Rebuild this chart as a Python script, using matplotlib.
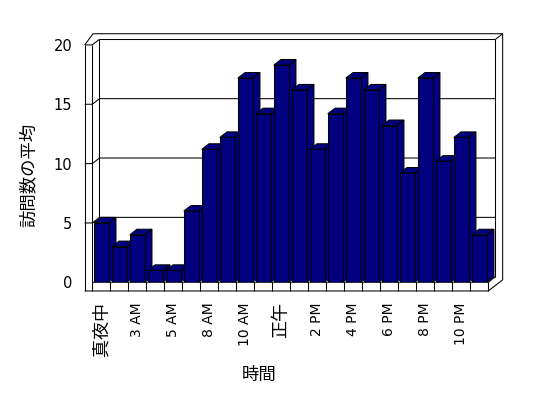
import matplotlib
matplotlib.use('Agg')
import matplotlib.pyplot as plt
from matplotlib.patches import Polygon

plt.rcParams['font.family'] = ['DejaVu Sans', 'Noto Sans CJK JP']

# average visits per hour (22 hourly buckets)
hours = ['真夜中', '1 AM', '3 AM', '4 AM', '5 AM', '7 AM', '8 AM', '9 AM', '10 AM', '11 AM',
         '正午', '1 PM', '2 PM', '3 PM', '4 PM', '5 PM', '6 PM', '7 PM', '8 PM', '9 PM',
         '10 PM', '11 PM']
visits = [5.0, 3.0, 4.0, 1.0, 1.0, 6.0, 11.2, 12.2, 17.2, 14.2, 18.3, 16.2,
          11.2, 14.2, 17.2, 16.2, 13.2, 9.2, 17.2, 10.2, 12.2, 4.0]
y_ticks = [0, 5, 10, 15, 20]

NAVY = '#000080'
LW = 0.75
W = 0.83            # bar width (category units)
DX, DY = 0.40, 0.47  # 3D depth offset in data units (~7 px, ~5.6 px)
XL = -0.92          # outer edge of left wall
FB = -0.73          # bottom of floor slab
n = len(visits)
x0, x1 = -0.5, n - 0.5

fig = plt.figure(figsize=(5.48, 3.98), dpi=100)
ax = fig.add_axes([0.1684, 0.2907, 0.7226, 0.5965])
ax.set_xlim(x0, x1)
ax.set_ylim(0, 20)
ax.patch.set_visible(False)
for s in ax.spines.values():
    s.set_visible(False)


def line(xs, ys, z=1):
    ax.plot(xs, ys, color='black', lw=LW, clip_on=False, zorder=z, solid_capstyle='butt')


# back wall + gridlines on left wall
for v in y_ticks[1:-1]:
    line([XL, x0, x0 + DX, x1 + DX], [v, v, v + DY, v + DY])
line([x0 + DX, x1 + DX], [20 + DY, 20 + DY])
line([x0 + DX, x0 + DX], [DY, 20 + DY])
line([x1 + DX, x1 + DX], [DY, 20 + DY])
line([x1 + DX, x1 + 2 * DX], [20 + DY, 20 + 2 * DY])

# left wall
line([XL, XL], [FB, 20])
line([x0, x0], [0, 20])
line([XL, x0, x0 + DX], [20, 20, 20 + DY])
line([XL, XL + 0.46, x1 + 2 * DX, x1 + 2 * DX, x1, XL],
     [20, 20 + 2 * DY, 20 + 2 * DY, FB + 2 * DY, FB, FB])

# floor
line([x0, x1, x1 + DX], [0, 0, DY])
line([x1, x1], [0, FB])
for k in range(n + 1):
    line([x0 + k, x0 + k], [0, FB])

# bars: front faces via ax.bar, top / side faces as depth polygons
xs = list(range(n))
ax.bar(xs, visits, width=W, color=NAVY, edgecolor='black', linewidth=LW, zorder=3)
for xi, v in zip(xs, visits):
    l, r = xi - W / 2, xi + W / 2
    top = Polygon([(l, v), (r, v), (r + DX, v + DY), (l + DX, v + DY)], closed=True,
                  facecolor=NAVY, edgecolor='black', lw=LW, zorder=2, clip_on=False)
    side = Polygon([(r, 0), (r, v), (r + DX, v + DY), (r + DX, DY)], closed=True,
                   facecolor=NAVY, edgecolor='black', lw=LW, zorder=2, clip_on=False)
    ax.add_patch(side)
    ax.add_patch(top)

ax.set_yticks(y_ticks)
ax.set_yticklabels([str(t) for t in y_ticks], fontsize=10.5)
ax.tick_params(axis='y', length=0, pad=14.5)
ax.set_xticks(xs[::2])
ax.set_xticklabels(hours[::2], rotation=90, fontsize=10)
ax.tick_params(axis='x', length=0, pad=14.5)
for t in ax.get_xticklabels():
    if t.get_text() in ('真夜中', '正午'):
        t.set_fontsize(13)

fig.text(29 / 548, 1 - 175 / 398, '訪問数の平均', rotation=90, ha='center', va='center', fontsize=12.5)
fig.text(259 / 548, 1 - 374.5 / 398, '時間', ha='center', va='center', fontsize=12.5)

fig.savefig('out.png', dpi=100)
